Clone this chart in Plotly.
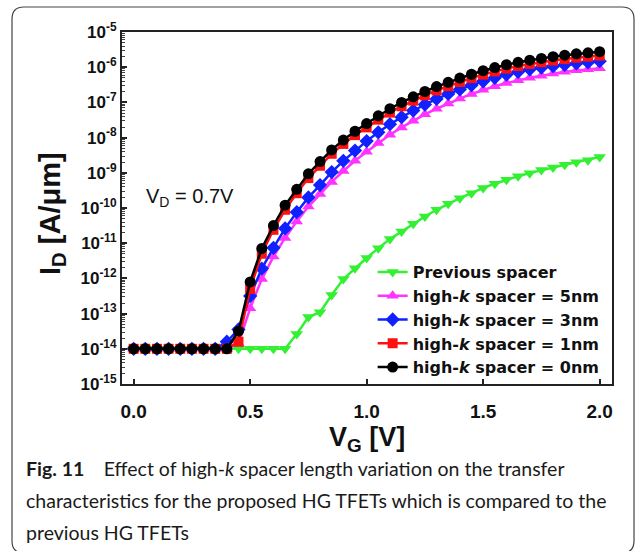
import plotly.graph_objects as go

# Gate voltage sweep (V)
vg = [round(0.05 * i, 2) for i in range(41)]

# log10 of drain current I_D (A/um) for each spacer configuration
log_id_previous = [-14.0] * 14 + [
    -13.58, -13.10, -12.96, -12.47, -12.02, -11.71, -11.42, -11.14, -10.88,
    -10.67, -10.45, -10.24, -10.05, -9.88, -9.72, -9.58, -9.43, -9.31, -9.20,
    -9.10, -9.01, -8.92, -8.85, -8.77, -8.70, -8.64, -8.55]

log_id_5nm = [-14.0] * 9 + [
    -13.85, -12.85, -12.02, -11.38, -10.85, -10.38, -9.96, -9.60, -9.26,
    -8.95, -8.66, -8.40, -8.15, -7.92, -7.71, -7.52, -7.34, -7.18, -7.03,
    -6.89, -6.76, -6.64, -6.54, -6.45, -6.37, -6.30, -6.24, -6.18, -6.13,
    -6.09, -6.06, -6.03]

log_id_3nm = [-14.0] * 8 + [
    -13.80, -13.45, -12.50, -11.72, -11.13, -10.58, -10.12, -9.70, -9.35,
    -8.98, -8.66, -8.37, -8.10, -7.85, -7.62, -7.42, -7.23, -7.06, -6.90,
    -6.76, -6.63, -6.51, -6.40, -6.30, -6.21, -6.13, -6.06, -6.01, -5.97,
    -5.93, -5.89, -5.86, -5.83]

log_id_1nm = [-14.0] * 9 + [
    -13.80, -12.30, -11.30, -10.62, -10.05, -9.58, -9.15, -8.80, -8.46,
    -8.18, -7.93, -7.71, -7.49, -7.29, -7.11, -6.95, -6.80, -6.66, -6.54,
    -6.42, -6.31, -6.21, -6.12, -6.04, -5.97, -5.91, -5.86, -5.81, -5.77,
    -5.73, -5.70, -5.67]

log_id_0nm = [-14.0] * 9 + [
    -13.50, -12.10, -11.15, -10.50, -9.92, -9.47, -9.03, -8.68, -8.35,
    -8.07, -7.82, -7.60, -7.38, -7.18, -7.00, -6.84, -6.69, -6.55, -6.43,
    -6.31, -6.20, -6.10, -6.01, -5.93, -5.86, -5.80, -5.75, -5.70, -5.66,
    -5.62, -5.59, -5.56]

series_names = [
    "<b>Previous spacer</b>",
    "<b>high-<i>k</i> spacer = 5nm</b>",
    "<b>high-<i>k</i> spacer = 3nm</b>",
    "<b>high-<i>k</i> spacer = 1nm</b>",
    "<b>high-<i>k</i> spacer = 0nm</b>",
]
series_logs = [log_id_previous, log_id_5nm, log_id_3nm, log_id_1nm, log_id_0nm]
series_colors = ["#33f033", "#ff33ff", "#1020ff", "#ff1010", "#000000"]
series_symbols = ["triangle-down", "triangle-up", "diamond", "square", "circle"]
series_sizes = [11, 11, 11, 10, 11]

x_ticks = [0.0, 0.5, 1.0, 1.5, 2.0]
x_ticktext = ["<b>0.0</b>", "<b>0.5</b>", "<b>1.0</b>", "<b>1.5</b>", "<b>2.0</b>"]
y_exponents = list(range(-15, -4))

FONT = "Liberation Sans, Arial, sans-serif"
WIDE = "DejaVu Sans, Liberation Sans, sans-serif"

fig = go.Figure()
for name, logs, color, sym, size in zip(series_names, series_logs, series_colors,
                                         series_symbols, series_sizes):
    fig.add_trace(go.Scatter(
        x=vg, y=[10 ** v for v in logs], name=name, mode="lines+markers",
        line=dict(color=color, width=2.5),
        marker=dict(symbol=sym, size=size, color=color, line=dict(width=0)),
    ))

W, H = 637, 551
ML, MR, MT, MB = 122, 25, 32, 167
PW, PH = W - ML - MR, H - MT - MB


def px(x):
    return (x - ML) / PW


def py(y):
    return (H - MB - y) / PH


minor_vals = [m * 10 ** e for e in range(-15, -5) for m in range(2, 10)]

fig.update_xaxes(
    range=[-0.05, 2.053], tickvals=x_ticks, ticktext=x_ticktext,
    ticks="inside", ticklen=5, tickwidth=1.5, tickcolor="#222",
    showline=True, linewidth=2, linecolor="#222", mirror=True,
    showgrid=False, zeroline=False, ticklabelstandoff=9,
    tickfont=dict(family=FONT, size=19, color="#111"),
)
fig.update_yaxes(
    type="log", range=[-15, -5],
    tickvals=[10 ** e for e in y_exponents],
    ticktext=[f"<b>10<sup>{e}</sup></b>" for e in y_exponents],
    ticks="inside", ticklen=5, tickwidth=1.5, tickcolor="#222",
    minor=dict(tickvals=minor_vals, ticks="inside", ticklen=2.5,
               tickwidth=1, tickcolor="#444"),
    showline=True, linewidth=2, linecolor="#222", mirror=True,
    showgrid=False, zeroline=False,
    tickfont=dict(family=FONT, size=17, color="#111"),
)

annotations = [
    dict(text="V<sub>D</sub> = 0.7V", x=0.045, y=-9.71, xref="x", yref="y",
         xanchor="left", yanchor="middle", showarrow=False,
         font=dict(family=FONT, size=20, color="#111")),
    dict(text="<b>V<sub>G</sub> [V]</b>", x=px(366.7), y=py(439),
         xref="paper", yref="paper", xanchor="center", yanchor="middle",
         showarrow=False, font=dict(family=FONT, size=27, color="#111")),
    dict(text="<b>I<sub>D</sub> [A/μm]</b>", x=px(52), y=py(214),
         xref="paper", yref="paper", xanchor="center", yanchor="middle",
         textangle=-90, showarrow=False,
         font=dict(family=FONT, size=29, color="#111")),
]

caption_lines = [
    "<b>Fig. 11</b>\u2002\u2002Effect of high-<i>k</i> spacer length variation on the transfer",
    "characteristics for the proposed HG TFETs which is compared to the",
    "previous HG TFETs",
]
for i, line in enumerate(caption_lines):
    annotations.append(dict(
        text=line, x=px(24), y=py(468 + 32 * i), xref="paper", yref="paper",
        xanchor="left", yanchor="middle", showarrow=False, align="left",
        font=dict(family="Lato, sans-serif", size=19.5, color="#1a1a1a")))

# rounded outer frame around figure and caption
x0, y0, x1, y1, r = px(12), py(7), px(634), py(553), 12
rx, ry = r / PW, r / PH
frame_path = (
    f"M {x0 + rx},{y0} L {x1 - rx},{y0} Q {x1},{y0} {x1},{y0 - ry} "
    f"L {x1},{y1 + ry} Q {x1},{y1} {x1 - rx},{y1} "
    f"L {x0 + rx},{y1} Q {x0},{y1} {x0},{y1 + ry} "
    f"L {x0},{y0 - ry} Q {x0},{y0} {x0 + rx},{y0} Z"
)

fig.update_layout(
    width=W, height=H,
    margin=dict(l=ML, r=MR, t=MT, b=MB),
    paper_bgcolor="white", plot_bgcolor="white",
    showlegend=True,
    legend=dict(x=0.985, y=0.0, xanchor="right", yanchor="bottom",
                bgcolor="rgba(0,0,0,0)", borderwidth=0,
                font=dict(family=WIDE, size=16, color="#111"),
                itemsizing="trace"),
    annotations=annotations,
    shapes=[dict(type="path", path=frame_path, xref="paper", yref="paper",
                 line=dict(color="#444", width=1.2), layer="below")],
)

fig.write_html("out.html")
